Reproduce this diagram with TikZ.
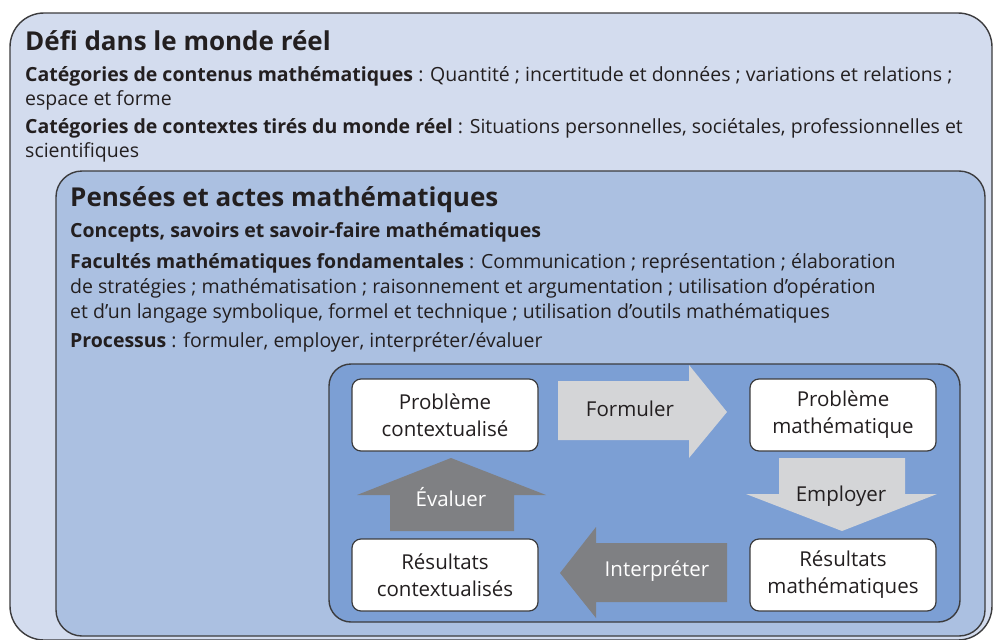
\documentclass[tikz,border=0pt]{standalone}
\usepackage{fontspec}
\setmainfont{Open Sans}
\definecolor{outerfill}{HTML}{D3DCEE}
\definecolor{midfill}{HTML}{ABC0E1}
\definecolor{innerfill}{HTML}{7C9FD4}
\definecolor{lightarrow}{HTML}{D4D5D7}
\definecolor{darkarrow}{HTML}{7F8083}
\definecolor{txt}{HTML}{231F20}
\definecolor{edge}{HTML}{3C3C3E}
\begin{document}
\begin{tikzpicture}[x=1pt,y=-1pt,
  panel/.style={draw=edge, line width=1.4pt},
  body/.style={anchor=base west, inner sep=0pt, text=txt, font=\fontsize{19.5}{22}\selectfont},
  heading/.style={anchor=base west, inner sep=0pt, text=txt, font=\fontsize{26}{30}\selectfont\bfseries},
  stagebox/.style={draw=edge, line width=1.2pt, fill=white, rounded corners=9pt,
     minimum width=186pt, minimum height=72pt, align=center, text=txt,
     font=\fontsize{20.5}{27}\selectfont, inner sep=0pt},
  lightlabel/.style={text=txt, font=\fontsize{20.5}{22}\selectfont, inner sep=0pt},
  darklabel/.style={text=white, font=\fontsize{20.5}{22}\selectfont, inner sep=0pt}]
\useasboundingbox (0,0) rectangle (994,640);
\clip (0,0) rectangle (994,640);
\fill[white] (0,0) rectangle (994,640);
% panels
\draw[panel, fill=outerfill, rounded corners=34pt] (10,13) rectangle (992,640);
\draw[panel, fill=midfill, rounded corners=26pt] (56,171) rectangle (985,636);
\draw[panel, fill=innerfill, rounded corners=22pt] (329,364) rectangle (960,622);
% outer texts
\node[heading] (t1) at (25,50) {Défi dans le monde réel};
\node[body] (l1) at (25,81) {\textbf{Catégories de contenus mathématiques} : Quantité ; incertitude et données ; variations et relations ;};
\node[body] (l2) at (25,105) {espace et forme};
\node[body] (l3) at (25,133) {\textbf{Catégories de contextes tirés du monde réel} : Situations personnelles, sociétales, professionnelles et};
\node[body] (l4) at (25,157) {scientifiques};
% middle texts
\node[heading] (t2) at (70,206) {Pensées et actes mathématiques};
\node[body] (m1) at (70,237) {\textbf{Concepts, savoirs et savoir-faire mathématiques}};
\node[body] (m2) at (70,268) {\textbf{Facultés mathématiques fondamentales} : Communication ; représentation ; élaboration};
\node[body] (m3) at (70,293) {de stratégies ; mathématisation ; raisonnement et argumentation ; utilisation d’opération};
\node[body] (m4) at (70,318) {et d’un langage symbolique, formel et technique ; utilisation d’outils mathématiques};
\node[body] (m5) at (70,347) {\textbf{Processus} : formuler, employer, interpréter/évaluer};
% block arrows
\fill[lightarrow] (558,381) -- (689,381) -- (689,365) -- (727,412) -- (689,458) -- (689,440) -- (558,440) -- cycle;
\fill[lightarrow] (779,458) -- (905,458) -- (905,494) -- (937,494) -- (842,531) -- (746,494) -- (779,494) -- cycle;
\fill[darkarrow] (727,543) -- (596,543) -- (596,527) -- (560,573) -- (596,618) -- (596,602) -- (727,602) -- cycle;
\fill[darkarrow] (514,531) -- (390,531) -- (390,495) -- (357,495) -- (451,458) -- (546,495) -- (514,495) -- cycle;
% stage boxes
\node[stagebox] (pc) at (445,415) {Problème\\contextualisé};
\node[stagebox] (pm) at (843,415) {Problème\\mathématique};
\node[stagebox] (rc) at (445,575) {Résultats\\contextualisés};
\node[stagebox] (rm) at (843,575) {Résultats\\mathématiques};
% arrow labels
\node[lightlabel] (lf) at (630,409) {Formuler};
\node[lightlabel] (le) at (841,496) {Employer};
\node[darklabel] (li) at (657,571) {Interpréter};
\node[darklabel] (lv) at (451,497) {Évaluer};
\end{tikzpicture}
\end{document}
